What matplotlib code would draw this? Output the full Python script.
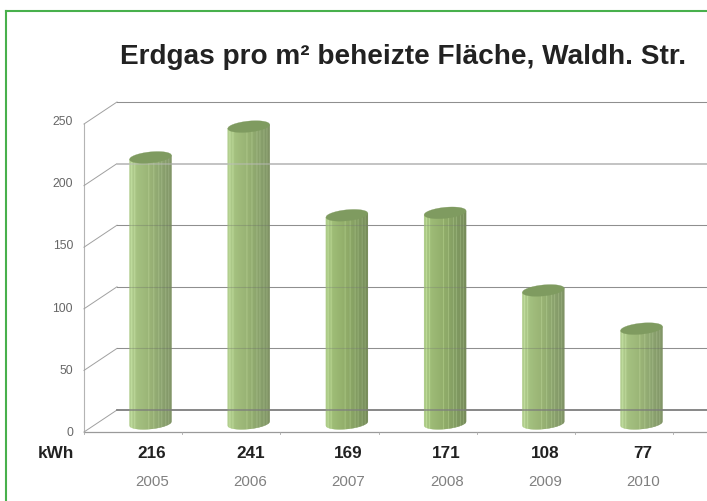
import numpy as np
import matplotlib
matplotlib.use('Agg')
import matplotlib.pyplot as plt

years = ['2005', '2006', '2007', '2008', '2009', '2010']
kwh = [216, 241, 169, 171, 108, 77]
ticks = [0, 50, 100, 150, 200, 250]

plt.rcParams['font.family'] = ['Liberation Sans', 'DejaVu Sans']

W, H = 707, 502
px_x = 98.2        # pixels per category
px_y = 1.232       # pixels per kWh
x0, y0 = 133, 433  # pixel position of category 0 / value 0


def dx(p):
    return p / px_x


def dy(p):
    return p / px_y


fig = plt.figure(figsize=(W / 100, H / 100), dpi=100, facecolor='white')
ax = fig.add_axes([0, 0, 1, 1])
ax.set_xlim(-x0 / px_x, (W - x0) / px_x)
ax.set_ylim(-(H - y0) / px_y, y0 / px_y)
ax.axis('off')

# the x value of the left wall, and the depth of the floor
left = dx(84 - x0)
depth_x, depth_y = dx(33), dy(22)
right = dx(W - x0)

# walls and floor
ax.plot([left, left], [0, 250], color='#b4b4b4', lw=0.8, zorder=1)
ax.plot([left, right], [0, 0], color='#9a9a9a', lw=0.9, zorder=1)
for t in ticks:
    ax.plot([left, left + depth_x], [t, t + depth_y], color='#a0a0a0', lw=0.7, zorder=1)
    c, w = ('#c4c4c4', 1.4) if t == 200 else ('#969696', 0.75)
    if t == 0:
        c, w = '#808080', 1.1
    ax.plot([left + depth_x, right], [t + depth_y, t + depth_y], color=c, lw=w, zorder=1)
    ax.text(left - dx(11), t + dy(3 * t / 250), str(t), ha='right', va='center', fontsize=8.7, color='#666666')
for i in range(len(years) + 1):
    tx = left + i
    ax.plot([tx, tx], [0, -dy(2)], color='#a8a8a8', lw=0.6, zorder=1)

# cylinders
half = dx(21)
off_x = dx(17)
base = dy(9)
minor = dy(5.5)
tilt = dy(2)
shade_pos = [0, 0.2, 0.5, 0.8, 1]
shade_r = [0xac, 0x98, 0x8c, 0x7a, 0x70]
shade_g = [0xcc, 0xb8, 0xa9, 0x94, 0x86]
shade_b = [0x85, 0x6f, 0x63, 0x5a, 0x53]
streaks = [0.07, 0.14, 0.47, 0.58, 0.70, 0.78, 0.86, 0.94]
n_strips = 42

for i, v in enumerate(kwh):
    cx = i + off_x
    edges = np.linspace(-1, 1, n_strips + 1)
    for k in range(n_strips):
        u = np.linspace(edges[k], edges[k + 1], 5)
        f = (u.mean() + 1) / 2
        col = np.array([np.interp(f, shade_pos, shade_r),
                        np.interp(f, shade_pos, shade_g),
                        np.interp(f, shade_pos, shade_b)]) / 255
        if any(abs(f - s) < 0.5 / n_strips for s in streaks):
            col = np.minimum(col + 0.08, 1)
        low = base + tilt * u - minor * np.sqrt(1 - u ** 2)
        high = v + base + tilt * u
        ax.fill_between(cx + half * u, low, high, color=col, lw=0.2, zorder=2)
    u = np.linspace(-1, 1, 80)
    top = v + base + tilt * u
    ax.fill_between(cx + half * u, top - minor * np.sqrt(1 - u ** 2), top + minor * np.sqrt(1 - u ** 2),
                    color='#7f9b60', lw=0.2, zorder=3)

# lines show through the cylinders
for t in ticks:
    if t == 200:
        c, w, a = '#c4c4c4', 1.4, 0.45
    elif t == 0:
        c, w, a = '#808080', 1.1, 0.85
    else:
        c, w, a = '#808080', 0.75, 0.3
    ax.plot([left + depth_x, right], [t + depth_y, t + depth_y], color=c, lw=w, alpha=a, zorder=2.5)

# value row and year row
for i, (y, v) in enumerate(zip(years, kwh)):
    ax.text(i + dx(19), -dy(21), str(v), ha='center', va='center', fontsize=12.3, fontweight='bold',
            color='#222222', family=['Liberation Sans Narrow', 'Liberation Sans'])
    ax.text(i + dx(19), -dy(49), y, ha='center', va='center', fontsize=10.8, color='#808080')
ax.text(dx(74.5 - x0), -dy(21), 'kWh', ha='right', va='center', fontsize=12.3, fontweight='bold',
        color='#222222', family=['Liberation Sans Narrow', 'Liberation Sans'])

ax.text(dx(120 - x0), dy(y0 - 57), 'Erdgas pro m² beheizte Fläche, Waldh. Str.', ha='left', va='center',
        fontsize=20.2, fontweight='bold', color='#222222')

# green frame, open at right and bottom
ax.plot([dx(6.5 - x0), dx(6.5 - x0)], [-(H - y0) / px_y, dy(y0 - 12)], color='#48b04c', lw=1.5, clip_on=False, zorder=5)
ax.plot([dx(6.5 - x0), right], [dy(y0 - 12), dy(y0 - 12)], color='#48b04c', lw=1.5, clip_on=False, zorder=5)

fig.savefig('out.png', dpi=100)
